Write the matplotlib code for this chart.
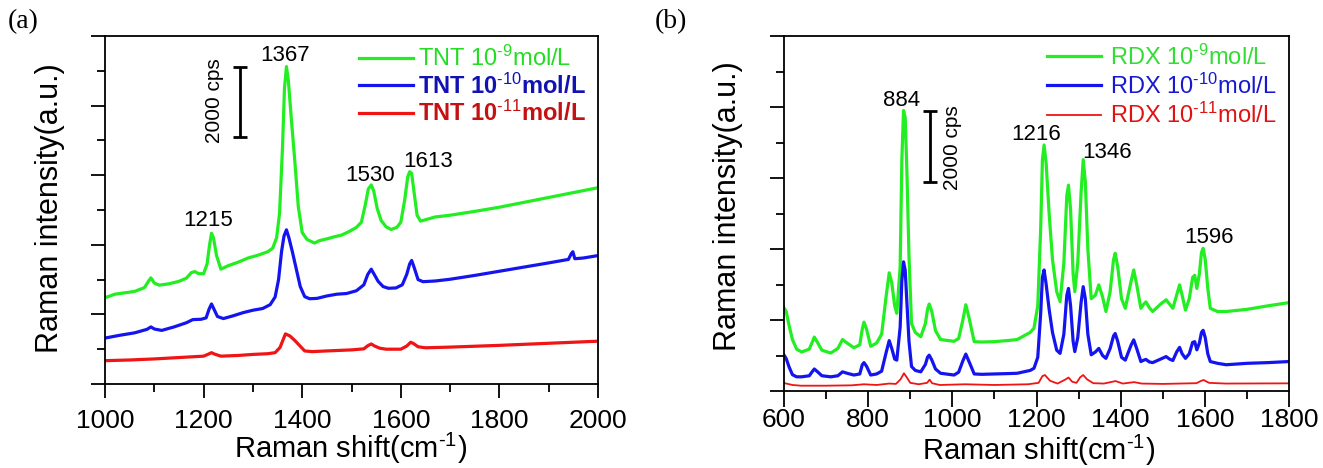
import matplotlib
matplotlib.use('Agg')
import matplotlib.pyplot as plt
from matplotlib.ticker import MultipleLocator

plt.rcParams['font.family'] = ['Liberation Sans', 'DejaVu Sans']
plt.rcParams['mathtext.fontset'] = 'custom'
plt.rcParams['mathtext.rm'] = 'Liberation Sans'
plt.rcParams['mathtext.it'] = 'Liberation Sans:italic'
plt.rcParams['mathtext.bf'] = 'Liberation Sans:bold'

# ---- panel (a): TNT, intensity in cps ----
tnt9_shift = [1000, 1020, 1040, 1060, 1080, 1088, 1093, 1100, 1110, 1130, 1150, 1165, 1175, 1182,
              1190, 1200, 1207, 1212, 1216, 1220, 1226, 1235, 1250, 1270, 1290, 1310, 1330, 1340,
              1348, 1354, 1360, 1364, 1368, 1372, 1378, 1385, 1392, 1400, 1410, 1425, 1435, 1450,
              1465, 1480, 1495, 1510, 1520, 1528, 1534, 1540, 1545, 1552, 1560, 1570, 1580, 1592,
              1600, 1608, 1614, 1618, 1622, 1627, 1633, 1640, 1650, 1670, 1700, 1750, 1800, 1850,
              1900, 1950, 2000]
tnt9_int = [2480, 2580, 2620, 2660, 2770, 2950, 3050, 2900, 2840, 2880, 2950, 3040, 3200, 3230,
            3170, 3170, 3450, 4000, 4330, 4200, 3700, 3300, 3400, 3500, 3620, 3700, 3800, 3900,
            4200, 4900, 6800, 8500, 9120, 8700, 7600, 6400, 5100, 4350, 4150, 4050, 4120, 4170,
            4230, 4280, 4380, 4500, 4650, 5150, 5600, 5720, 5550, 5050, 4700, 4520, 4440, 4500,
            4650, 5300, 5950, 6100, 6050, 5500, 4850, 4680, 4720, 4800, 4850, 4960, 5080, 5220,
            5360, 5500, 5640]

tnt10_shift = [1000, 1030, 1060, 1085, 1093, 1100, 1115, 1140, 1165, 1178, 1195, 1205, 1211, 1216,
               1221, 1228, 1240, 1260, 1280, 1300, 1320, 1335, 1345, 1352, 1358, 1363, 1368, 1373,
               1380, 1388, 1396, 1405, 1415, 1430, 1450, 1470, 1490, 1510, 1525, 1533, 1540, 1546,
               1554, 1564, 1575, 1590, 1603, 1612, 1618, 1622, 1627, 1635, 1645, 1670, 1700, 1750,
               1800, 1850, 1900, 1940, 1946, 1949, 1953, 1970, 2000]
tnt10_int = [1320, 1400, 1470, 1570, 1640, 1580, 1540, 1640, 1760, 1850, 1860, 1900, 2150, 2300,
             2150, 1940, 1880, 1960, 2050, 2120, 2170, 2280, 2500, 3000, 3800, 4250, 4430, 4200,
             3800, 3300, 2800, 2510, 2450, 2460, 2530, 2580, 2600, 2680, 2850, 3150, 3300, 3150,
             2950, 2800, 2750, 2760, 2850, 3150, 3450, 3550, 3350, 3000, 2940, 2960, 3010, 3120,
             3240, 3360, 3480, 3580, 3750, 3800, 3600, 3620, 3690]

tnt11_shift = [1000, 1050, 1100, 1150, 1200, 1210, 1216, 1222, 1235, 1270, 1300, 1330, 1345, 1355,
               1362, 1366, 1375, 1385, 1395, 1405, 1420, 1450, 1500, 1525, 1533, 1540, 1547, 1557,
               1570, 1600, 1612, 1620, 1626, 1635, 1650, 1700, 1800, 1900, 2000]
tnt11_int = [670, 690, 720, 760, 800, 860, 900, 860, 800, 820, 850, 870, 900, 1050,
             1300, 1440, 1380, 1250, 1100, 950, 930, 950, 980, 1010, 1100, 1150, 1090, 1030,
             1000, 1000, 1090, 1200, 1160, 1070, 1040, 1060, 1110, 1170, 1230]

tnt_labels = ['TNT 10$^{\u2010 9}$mol/L', 'TNT 10$^{\u2010 10}$mol/L', 'TNT 10$^{\u2010 11}$mol/L']
tnt_peaks = ['1215', '1367', '1530', '1613']
tnt_peak_pos = [(1210, 4700), (1366, 9440), (1537, 5980), (1655, 6400)]

# ---- panel (b): RDX, intensity in cps ----
rdx_shift = [600, 605, 612, 620, 630, 642, 660, 668, 672, 678, 690, 711, 728, 739, 750, 766, 780,
             786, 790, 796, 806, 820, 832, 843, 850, 856, 863, 868, 876, 880, 884, 888, 892, 897,
             903, 912, 925, 936, 941, 945, 951, 960, 972, 1004, 1015, 1025, 1032, 1040, 1052,
             1070, 1099, 1130, 1154, 1185, 1194, 1203, 1210, 1214, 1218, 1223, 1230, 1238, 1248,
             1256, 1265, 1272, 1276, 1281, 1287, 1291, 1298, 1306, 1311, 1316, 1322, 1330, 1340,
             1348, 1357, 1365, 1375, 1383, 1387, 1393, 1402, 1411, 1425, 1431, 1438, 1448, 1455,
             1460, 1468, 1476, 1495, 1508, 1516, 1524, 1533, 1540, 1546, 1554, 1563, 1571, 1576,
             1581, 1587, 1592, 1596, 1601, 1607, 1613, 1630, 1651, 1700, 1750, 1800]
rdx9_int = [2340, 2250, 1850, 1450, 1180, 1100, 1180, 1400, 1520, 1400, 1150, 1070, 1200, 1450,
            1350, 1220, 1300, 1750, 1940, 1750, 1260, 1350, 1600, 2700, 3330, 3050, 2400, 2190,
            3500, 6500, 7900, 7700, 6200, 3800, 1900, 1650, 1530, 1900, 2300, 2450, 2250, 1700,
            1450, 1400, 1480, 2000, 2430, 2050, 1390, 1380, 1390, 1420, 1450, 1650, 1770, 2400,
            4600, 6500, 6930, 6400, 5000, 3700, 2800, 2520, 3600, 5500, 5800, 5100, 3300, 2800,
            3600, 5600, 6520, 5900, 4000, 2600, 2700, 2990, 2650, 2240, 2800, 3700, 3880, 3500,
            2600, 2330, 3100, 3410, 3000, 2330, 2450, 2510, 2350, 2240, 2450, 2570, 2450, 2330,
            2700, 2990, 2700, 2280, 2600, 3200, 3260, 2890, 3300, 3900, 4020, 3700, 2900, 2330,
            2240, 2240, 2300, 2400, 2490]
rdx10_int = [1010, 920, 680, 460, 400, 400, 430, 560, 620, 560, 430, 400, 430, 540,
             500, 450, 480, 740, 800, 700, 450, 480, 560, 1100, 1420, 1200, 900, 870,
             1800, 3100, 3640, 3400, 2500, 1400, 690, 580, 540, 750, 950, 1010, 880, 620,
             500, 450, 530, 850, 1040, 820, 480, 470, 480, 490, 500, 580, 640, 950,
             2200, 3200, 3410, 3000, 2300, 1650, 1150, 1060, 1600, 2700, 2890, 2400, 1400, 1110,
             1500, 2500, 2940, 2600, 1600, 1020, 1100, 1200, 1000, 920, 1200, 1550, 1620, 1400,
             950, 870, 1300, 1440, 1200, 830, 870, 890, 820, 800, 900, 970, 900, 860,
             1100, 1230, 1050, 920, 1050, 1370, 1390, 1160, 1350, 1650, 1710, 1500, 1050, 830,
             780, 740, 780, 800, 830]

rdx11_shift = [600, 620, 640, 700, 760, 790, 820, 850, 866, 877, 885, 892, 900, 920, 940, 946, 952,
               970, 1030, 1100, 1180, 1205, 1214, 1220, 1232, 1250, 1268, 1276, 1285, 1295, 1304,
               1311, 1320, 1335, 1360, 1380, 1388, 1405, 1425, 1432, 1450, 1500, 1540, 1580, 1592,
               1597, 1610, 1650, 1800]
rdx11_int = [225, 170, 150, 150, 160, 190, 170, 210, 200, 330, 500, 380, 230, 190, 230, 320, 220,
             170, 190, 170, 190, 230, 420, 450, 290, 210, 320, 380, 260, 230, 390,
             450, 330, 220, 210, 260, 280, 210, 240, 250, 210, 200, 210, 220, 290,
             310, 230, 210, 216]

rdx_labels = ['RDX 10$^{\u2010 9}$mol/L', 'RDX 10$^{\u2010 10}$mol/L', 'RDX 10$^{\u2010 11}$mol/L']
rdx_peaks = ['884', '1216', '1346', '1596']
rdx_peak_pos = [(880, 8190), (1200, 7240), (1368, 6720), (1609, 4315)]

line_colors = ['#22ee22', '#1414f0', '#f01414']

fig = plt.figure(figsize=(13.23, 4.68), dpi=100)
ax_a = fig.add_axes([0.0794, 0.1795, 0.3726, 0.7436])
ax_b = fig.add_axes([0.5926, 0.1645, 0.3817, 0.7585])

ax_a.plot(tnt9_shift, tnt9_int, color=line_colors[0], lw=2.3, label=tnt_labels[0])
ax_a.plot(tnt10_shift, tnt10_int, color=line_colors[1], lw=2.3, label=tnt_labels[1])
ax_a.plot(tnt11_shift, tnt11_int, color=line_colors[2], lw=2.3, label=tnt_labels[2])

ax_b.plot(rdx_shift, rdx9_int, color=line_colors[0], lw=2.3, label=rdx_labels[0])
ax_b.plot(rdx_shift, rdx10_int, color=line_colors[1], lw=2.3, label=rdx_labels[1])
ax_b.plot(rdx11_shift, rdx11_int, color=line_colors[2], lw=1.3, label=rdx_labels[2])

for name, (px, py) in zip(tnt_peaks, tnt_peak_pos):
    ax_a.text(px, py, name, fontsize=16, ha='center', va='center')
for name, (px, py) in zip(rdx_peaks, rdx_peak_pos):
    ax_b.text(px, py, name, fontsize=16, ha='center', va='center')

# 2000 cps scale bars
ax_a.errorbar([1274], [8100], yerr=[1000], color='k', lw=2, capsize=5, capthick=2)
ax_a.text(1223, 8130, '2000 cps', rotation=90, fontsize=15, ha='center', va='center')
ax_b.errorbar([947], [6900], yerr=[1000], color='k', lw=2, capsize=5, capthick=2)
ax_b.text(1000, 6860, '2000 cps', rotation=90, fontsize=15, ha='center', va='center')

leg_a = ax_a.legend(loc='upper right', bbox_to_anchor=(0.985, 0.985), frameon=False, fontsize=17,
                    handlelength=2.3, handletextpad=0.2, labelspacing=0.1, borderpad=0.2,
                    borderaxespad=0.0,
                    labelcolor=['#22dd22', '#1212b4', '#c41212'])
for t in leg_a.get_texts()[1:]:
    t.set_fontweight('bold')
ax_b.legend(loc='upper right', bbox_to_anchor=(0.985, 0.99), frameon=False, fontsize=17,
            handlelength=2.3, handletextpad=0.4, labelspacing=0.17, borderpad=0.2,
            borderaxespad=0.0,
            labelcolor=['#33dd33', '#1818d0', '#e01212'])

for ax, lo, hi in [(ax_a, 1000, 2000), (ax_b, 600, 1800)]:
    ax.set_xlim(lo, hi)
    ax.set_ylim(0, 10000)
    ax.xaxis.set_major_locator(MultipleLocator(200))
    ax.xaxis.set_minor_locator(MultipleLocator(100))
    ax.yaxis.set_major_locator(MultipleLocator(2000))
    ax.yaxis.set_minor_locator(MultipleLocator(1000))
    ax.tick_params(which='both', direction='out', top=False, right=False, width=1.3,
                   labelsize=19)
    ax.tick_params(axis='y', which='both', labelleft=False)
    ax.tick_params(which='major', length=10)
    ax.tick_params(which='minor', length=5.5)
    for sp in ax.spines.values():
        sp.set_linewidth(1.3)
    ax.set_xlabel('Raman shift(cm$^{\u2010 1}$)', fontsize=21)
    ax.set_ylabel('Raman intensity(a.u.)', fontsize=22)
    ax.xaxis.label.set_va('center')
    ax.yaxis.label.set_va('center')

ax_a.tick_params(axis='x', which='major', pad=8)
ax_b.tick_params(axis='x', which='major', length=11.5, pad=1)
ax_a.xaxis.set_label_coords(0.499, -0.184)
ax_b.xaxis.set_label_coords(0.505, -0.166)
ax_a.yaxis.set_label_coords(-0.112, 0.506)
ax_b.yaxis.set_label_coords(-0.111, 0.52)

fig.text(0.006, 0.953, '(a)', family='Liberation Serif', fontsize=20, va='center')
fig.text(0.495, 0.953, '(b)', family='Liberation Serif', fontsize=20, va='center')

fig.savefig('out.png', dpi=100)
